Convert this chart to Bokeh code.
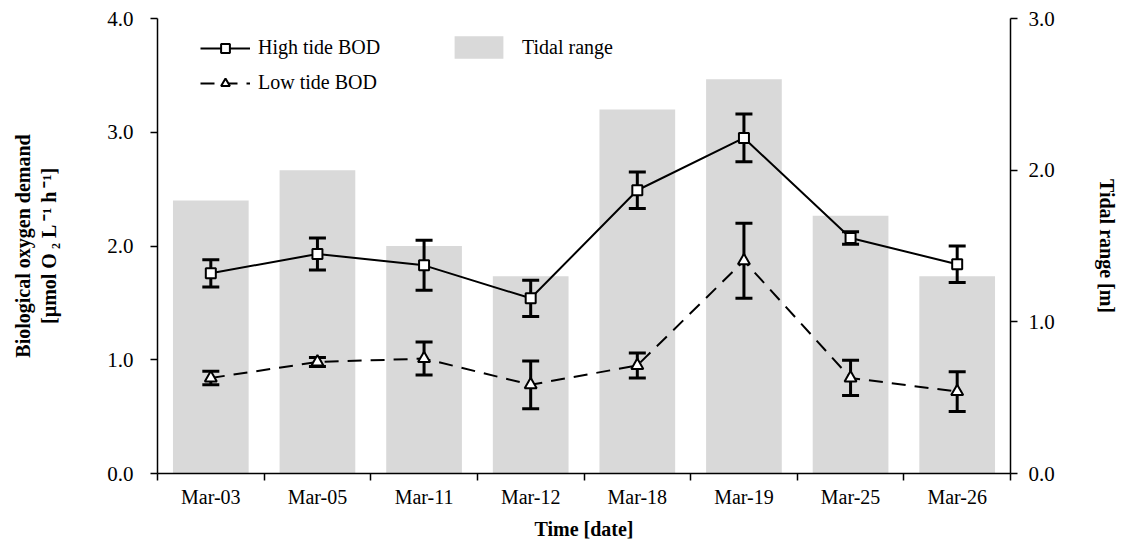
from bokeh.plotting import figure
from bokeh.models import (Range1d, LinearAxis, FixedTicker, PrintfTickFormatter,
                          ColumnDataSource, Legend, LegendItem)
from bokeh.embed import file_html
from bokeh.resources import INLINE

dates = ["Mar-03", "Mar-05", "Mar-11", "Mar-12", "Mar-18", "Mar-19", "Mar-25", "Mar-26"]
high_bod = [1.76, 1.93, 1.83, 1.54, 2.49, 2.95, 2.07, 1.84]
high_err = [0.12, 0.14, 0.22, 0.16, 0.16, 0.21, 0.055, 0.16]
low_bod = [0.84, 0.98, 1.01, 0.78, 0.95, 1.87, 0.84, 0.72]
low_err = [0.06, 0.04, 0.145, 0.21, 0.11, 0.33, 0.155, 0.175]
tidal_range = [1.8, 2.0, 1.5, 1.3, 2.4, 2.6, 1.7, 1.3]

FONT = "Liberation Serif"
xpos = [i + 0.5 for i in range(len(dates))]

src = ColumnDataSource(dict(
    x=xpos, high=high_bod, low=low_bod, tide=tidal_range,
    hu=[v + e for v, e in zip(high_bod, high_err)],
    hl=[v - e for v, e in zip(high_bod, high_err)],
    lu=[v + e for v, e in zip(low_bod, low_err)],
    ll=[v - e for v, e in zip(low_bod, low_err)],
))

p = figure(width=1120, height=544, output_backend="svg", toolbar_location=None,
           x_range=Range1d(0, len(dates)), y_range=Range1d(0, 4),
           min_border_left=157, min_border_right=105, min_border_top=18, min_border_bottom=71)
p.outline_line_color = None
p.grid.visible = False
p.background_fill_color = "white"
p.border_fill_color = "white"
p.extra_y_ranges = {"tide": Range1d(0, 3)}

bars = p.vbar(x="x", top="tide", width=0.71, source=src, y_range_name="tide",
              fill_color="#d9d9d9", line_color=None)

hl_line = p.line("x", "high", source=src, line_color="black", line_width=2)
ll_line = p.line("x", "low", source=src, line_color="black", line_width=2, line_dash="14 9")

# error bars
for up, lo in (("hu", "hl"), ("lu", "ll")):
    p.segment(x0="x", y0=lo, x1="x", y1=up, source=src, line_color="black", line_width=3)
    p.scatter("x", up, source=src, marker="dash", size=17, line_color="black", line_width=3)
    p.scatter("x", lo, source=src, marker="dash", size=17, line_color="black", line_width=3)

hl_mark = p.scatter("x", "high", source=src, marker="square", size=10,
                    fill_color="white", line_color="black", line_width=2)
ll_mark = p.scatter("x", "low", source=src, marker="triangle", size=12,
                    fill_color="white", line_color="black", line_width=2)

def style_axis(ax, tick_size="21px"):
    ax.axis_line_color = "black"
    ax.axis_line_width = 1.5
    ax.major_tick_line_color = "black"
    ax.major_tick_line_width = 1.5
    ax.major_label_text_font = FONT
    ax.major_label_text_font_size = tick_size
    ax.major_label_text_color = "black"
    ax.axis_label_text_font = FONT
    ax.axis_label_text_font_style = "bold"
    ax.axis_label_text_font_size = "20px"
    ax.axis_label_text_color = "black"

yl = p.yaxis[0]
style_axis(yl)
yl.ticker = FixedTicker(ticks=[0, 1, 2, 3, 4])
yl.formatter = PrintfTickFormatter(format="%.1f")
yl.major_tick_out = 7
yl.major_tick_in = 0
yl.minor_tick_line_color = None
yl.major_label_standoff = 17
yl.axis_label = "Biological oxygen demand\n[µmol O\u2009₂ L\u2009⁻¹ h\u2009⁻¹]"
yl.axis_label_standoff = 44

yr = LinearAxis(y_range_name="tide", axis_label="Tidal range [m]")
style_axis(yr)
yr.ticker = FixedTicker(ticks=[0, 1, 2, 3])
yr.formatter = PrintfTickFormatter(format="%.1f")
yr.major_tick_out = 7
yr.major_tick_in = 0
yr.minor_tick_line_color = None
yr.major_label_standoff = 11
yr.axis_label_standoff = 38
p.add_layout(yr, "right")

xa = p.xaxis[0]
style_axis(xa, "20px")
xa.ticker = FixedTicker(ticks=xpos, minor_ticks=list(range(len(dates) + 1)))
xa.major_label_overrides = {x: d for x, d in zip(xpos, dates)}
xa.major_tick_out = 0
xa.major_tick_in = 0
xa.minor_tick_out = 7
xa.minor_tick_in = 0
xa.minor_tick_line_color = "black"
xa.minor_tick_line_width = 1.5
xa.major_label_standoff = 5
xa.axis_label = "Time [date]"
xa.axis_label_standoff = 7

leg1 = Legend(items=[LegendItem(label="High tide BOD", renderers=[hl_line, hl_mark]),
                     LegendItem(label="Low tide BOD", renderers=[ll_line, ll_mark])],
              location=(43, 379))
leg2 = Legend(items=[LegendItem(label="Tidal range", renderers=[bars])],
              location=(291, 412))
for lg in (leg1, leg2):
    lg.background_fill_alpha = 0
    lg.border_line_color = None
    lg.padding = 0
    lg.margin = 0
    lg.spacing = 12
    lg.glyph_width = 50
    lg.glyph_height = 22
    lg.label_height = 22
    lg.label_standoff = 8
    lg.label_text_font = FONT
    lg.label_text_font_size = "20px"
    lg.label_text_color = "black"
leg2.glyph_width = 61
leg2.glyph_height = 28
leg2.label_height = 28
leg2.label_standoff = 13
p.add_layout(leg1)
p.add_layout(leg2)

open("out.html", "w").write(file_html(p, INLINE))
